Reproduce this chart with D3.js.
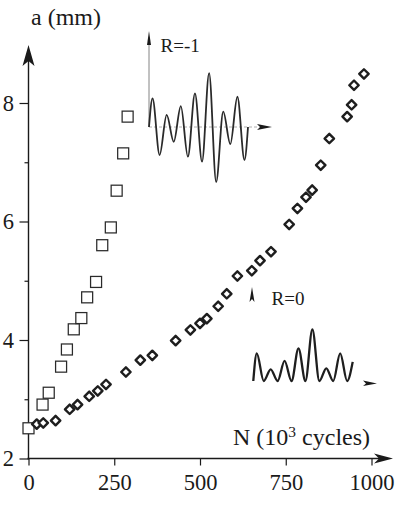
<!DOCTYPE html>
<html>
<head>
<meta charset="utf-8">
<script src="https://cdn.jsdelivr.net/npm/d3@7"></script>
<style>
  html, body { margin: 0; padding: 0; background: #fff; }
  svg { display: block; }
  text { font-family: "Liberation Serif", "Times New Roman", serif; fill: #1a1a1a; }
</style>
</head>
<body>
<svg id="chart" width="398" height="505"></svg>
<script>
// ---- data ----
const xTicks = [0, 250, 500, 750, 1000];
const yMajorTicks = [2, 4, 6, 8];
const yMinorTicks = [3, 5, 7];

// R = -1 (squares)
const sqN = [0, 41, 59, 95, 112, 132, 154, 171, 197, 215, 240, 257, 276, 289];
const sqA = [2.51, 2.91, 3.11, 3.55, 3.84, 4.18, 4.37, 4.72, 4.98, 5.60, 5.90, 6.52, 7.15, 7.77];

// R = 0 (diamonds)
const dmN = [24, 43, 79, 120, 143, 177, 202, 226, 284, 326, 361, 429, 472, 500, 520, 553, 578,
             609, 651, 675, 707, 760, 784, 809, 827, 852, 877, 929, 942, 949, 978];
const dmA = [2.58, 2.60, 2.64, 2.83, 2.91, 3.05, 3.14, 3.25, 3.46, 3.66, 3.74, 3.99, 4.17, 4.28, 4.36, 4.57, 4.78,
             5.08, 5.17, 5.34, 5.49, 5.95, 6.22, 6.41, 6.53, 6.95, 7.40, 7.77, 7.97, 8.30, 8.49];

// inset load spectra (normalised extrema, in order)
const waveRm1 = [0.52, -0.51, 0.22, -0.27, 0.38, -0.54, 0.61, -0.63, 0.98, -1.0, 0.28, -0.31, 0.55, -0.60];
const waveR0  = [0.535, 0, 0.226, 0, 0.39, 0, 0.63, 0, 1.0, 0, 0.245, 0, 0.535, 0];
const waveR0End = 0.37;

// ---- layout ----
const svg = d3.select("#chart");
const ink = "#1a1a1a";
const x = d3.scaleLinear().domain([0, 1000]).range([28.5, 371.5]);
const y = d3.scaleLinear().domain([2, 8]).range([458.5, 103]);
const x0 = x(0), yBase = y(2);

// y axis (major + minor ticks)
const gy = svg.append("g").attr("transform", `translate(${x0},0)`)
  .call(d3.axisLeft(y).tickValues(yMajorTicks).tickSize(9).tickPadding(5.5).tickFormat(d3.format("d")));
gy.select(".domain").remove();
gy.selectAll(".tick line").attr("stroke", ink).attr("stroke-width", 1.2);
gy.selectAll(".tick text").attr("font-size", 22.5).attr("font-family", "Liberation Serif").attr("fill", ink);

const gym = svg.append("g").attr("transform", `translate(${x0},0)`)
  .call(d3.axisLeft(y).tickValues(yMinorTicks).tickSize(4).tickFormat(""));
gym.select(".domain").remove();
gym.selectAll(".tick line").attr("stroke", ink).attr("stroke-width", 1.2);

// x axis
const gx = svg.append("g").attr("transform", `translate(0,${yBase})`)
  .call(d3.axisBottom(x).tickValues(xTicks).tickSize(7).tickPadding(9).tickFormat(d3.format("d")));
gx.select(".domain").remove();
gx.selectAll(".tick line").attr("stroke", ink).attr("stroke-width", 1.2);
gx.selectAll(".tick text").attr("font-size", 22.5).attr("font-family", "Liberation Serif").attr("fill", ink);

// axis lines with arrows
svg.append("line").attr("x1", x0).attr("x2", x0).attr("y1", yBase + 1).attr("y2", 60)
  .attr("stroke", ink).attr("stroke-width", 1.4);
svg.append("path")
  .attr("d", `M${x0},45 L${x0 + 6},66 L${x0},61 L${x0 - 6},66 Z`).attr("fill", ink);

svg.append("line").attr("x1", x0 - 1).attr("x2", 385).attr("y1", yBase).attr("y2", yBase)
  .attr("stroke", ink).attr("stroke-width", 1.4);
svg.append("path")
  .attr("d", `M393,${yBase} L374,${yBase - 5} L379,${yBase} L374,${yBase + 5} Z`).attr("fill", ink);

// axis titles
svg.append("text").attr("x", 31).attr("y", 25).attr("font-size", 24).text("a (mm)");
const nt = svg.append("text").attr("x", 233).attr("y", 445).attr("font-size", 24);
nt.append("tspan").text("N (10");
nt.append("tspan").attr("font-size", 15.5).attr("dy", -8.5).text("3");
nt.append("tspan").attr("dy", 8.5).text(" cycles)");

// data: squares (R=-1)
const sqSide = 11;
svg.append("g").selectAll("rect").data(sqN.map((n, i) => [n, sqA[i]])).join("rect")
  .attr("x", d => x(d[0]) - sqSide / 2).attr("y", d => y(d[1]) - sqSide / 2)
  .attr("width", sqSide).attr("height", sqSide)
  .attr("fill", "#fff").attr("stroke", "#2a2a2a").attr("stroke-width", 1.25);

// data: diamonds (R=0)
const dh = 4.7;
svg.append("g").selectAll("path").data(dmN.map((n, i) => [n, dmA[i]])).join("path")
  .attr("d", d => { const cx = x(d[0]), cy = y(d[1]);
    return `M${cx},${cy - dh} L${cx + dh},${cy} L${cx},${cy + dh} L${cx - dh},${cy} Z`; })
  .attr("fill", "#fff").attr("stroke", "#1e1e1e").attr("stroke-width", 2.4).attr("stroke-linejoin", "round");

// ---- inset R=-1 ----
const ix1 = d3.scaleLinear().domain([0, 14]).range([149, 248]);
const iy1 = d3.scaleLinear().domain([-1, 1]).range([127 + 55, 127 - 55]);
const pts1 = [[0, 0]].concat(waveRm1.map((v, i) => [i + 0.5, v]), [[14, 0]]);
svg.append("line").attr("x1", ix1(0)).attr("x2", 258).attr("y1", iy1(0)).attr("y2", iy1(0))
  .attr("stroke", "#9a9a9a").attr("stroke-width", 0.8).attr("stroke-dasharray", "3,2");
svg.append("path").attr("d", `M272,${iy1(0)} L257,${iy1(0) - 3} L260,${iy1(0)} L257,${iy1(0) + 3} Z`).attr("fill", ink);
svg.append("line").attr("x1", ix1(0)).attr("x2", ix1(0)).attr("y1", iy1(0)).attr("y2", 40)
  .attr("stroke", "#777").attr("stroke-width", 0.9);
svg.append("path").attr("d", `M${ix1(0)},31 L${ix1(0) + 2},45 L${ix1(0) - 2},45 Z`).attr("fill", ink);
svg.append("path")
  .attr("d", d3.line().x(d => ix1(d[0])).y(d => iy1(d[1])).curve(d3.curveMonotoneX)(pts1))
  .attr("fill", "none").attr("stroke", "#2a2a2a").attr("stroke-width", 1.8);
svg.append("text").attr("x", 160.5).attr("y", 51.5).attr("font-size", 19).text("R=-1");

// ---- inset R=0 ----
const ix2 = d3.scaleLinear().domain([0, 14.3]).range([253.3, 352.7]);
const iy2 = d3.scaleLinear().domain([0, 1]).range([381, 329.3]);
const pts2 = [[0, 0]].concat(waveR0.map((v, i) => [i + 0.5, v]), [[14.3, waveR0End]]);
svg.append("path")
  .attr("d", d3.line().x(d => ix2(d[0])).y(d => iy2(d[1])).curve(d3.curveMonotoneX)(pts2))
  .attr("fill", "none").attr("stroke", "#1e1e1e").attr("stroke-width", 2.3);
svg.append("path").attr("d", `M252,287 L254.5,302 L252,299 L249.5,302 Z`).attr("fill", ink);
svg.append("path").attr("d", `M377,383.5 L363,380.5 L366,383.5 L363,386 Z`).attr("fill", ink);
svg.append("text").attr("x", 271.5).attr("y", 305).attr("font-size", 19).text("R=0");
</script>
</body>
</html>
